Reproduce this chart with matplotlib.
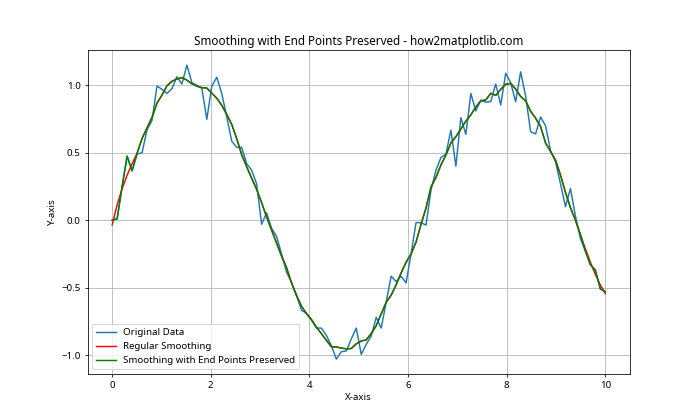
import numpy as np
import matplotlib.pyplot as plt

plt.rcParams['font.family'] = ['Noto Sans', 'DejaVu Sans']

# ── DATA ────────────────────────────────────────────────────────────
x_start, x_stop, n_points = 0, 10, 100
y_original = [
    0.00, 0.01, 0.25, 0.475, 0.366, 0.49, 0.50, 0.67, 0.74, 0.995,
    0.97, 0.94, 0.975, 1.064, 1.01, 1.15, 1.02, 1.00, 0.978, 0.748,
    0.995, 1.06, 0.94, 0.767, 0.586, 0.54, 0.54, 0.42, 0.37, 0.27,
    -0.03, 0.054, -0.06, -0.12, -0.25, -0.385, -0.46, -0.557, -0.668, -0.69,
    -0.74, -0.80, -0.80, -0.854, -0.93, -1.03, -0.975, -0.97, -0.88, -0.80,
    -0.995, -0.92, -0.86, -0.72, -0.80, -0.61, -0.415, -0.455, -0.415, -0.465,
    -0.25, -0.018, -0.018, -0.037, 0.223, 0.371, 0.465, 0.49, 0.668, 0.40,
    0.76, 0.636, 0.94, 0.81, 0.89, 0.875, 0.88, 1.01, 0.854, 1.09,
    1.02, 0.878, 1.10, 0.92, 0.656, 0.64, 0.765, 0.70, 0.515, 0.433,
    0.27, 0.10, 0.235, 0.03, -0.136, -0.23, -0.33, -0.37, -0.51, -0.53,
]
WINDOW = 11
POLYORDER = 3
# ────────────────────────────────────────────────────────────────────


def savgol(y, window, order):
    """Savitzky-Golay filter with polynomial fit at the edges (numpy only)."""
    y = np.asarray(y, dtype=float)
    half = window // 2
    pos = np.arange(-half, half + 1)
    A = np.vander(pos, order + 1, increasing=True)
    coeffs = np.linalg.pinv(A)[0]
    out = np.convolve(y, coeffs[::-1], mode="same")
    # edges: fit polynomial to first / last window
    idx = np.arange(window)
    p = np.polyfit(idx, y[:window], order)
    out[:half] = np.polyval(p, idx[:half])
    p = np.polyfit(idx, y[-window:], order)
    out[-half:] = np.polyval(p, idx[-half:])
    return out


x = np.linspace(x_start, x_stop, n_points)
y = np.array(y_original)

y_smooth = savgol(y, WINDOW, POLYORDER)
y_preserved = y_smooth.copy()
half = WINDOW // 2
y_preserved[:half] = y[:half]
y_preserved[-half:] = y[-half:]

# drawn as a 10x6 figure at 70 dpi -> 700x420 px
fig, ax = plt.subplots(figsize=(10, 6), dpi=70)
ax.plot(x, y, label="Original Data")
ax.plot(x, y_smooth, color="red", label="Regular Smoothing")
ax.plot(x, y_preserved, color="green", label="Smoothing with End Points Preserved")
ax.set_title("Smoothing with End Points Preserved - how2matplotlib.com")
ax.set_xlabel("X-axis")
ax.set_ylabel("Y-axis")
ax.legend(loc="lower left")
ax.grid(True)

plt.savefig("out.png", dpi=70)
